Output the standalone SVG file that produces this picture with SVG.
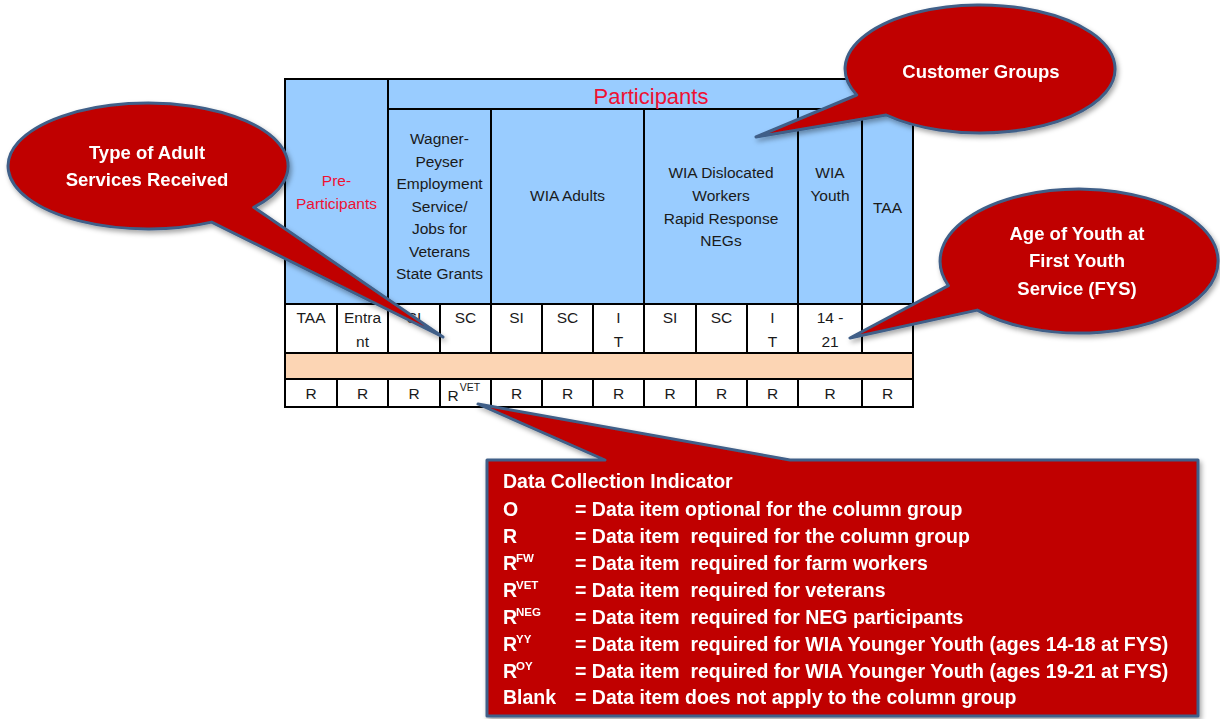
<svg xmlns="http://www.w3.org/2000/svg" width="1220" height="719" viewBox="0 0 1220 719">
<style>
.t{font-family:"Liberation Sans",Arial,sans-serif;font-size:15.5px;fill:#1a1a1a;text-anchor:middle}
.red{fill:#ee1133}
.co{fill:#c00000;stroke:#3f5f88;stroke-width:3;stroke-linejoin:round}
.ct{font-family:"Liberation Sans",Arial,sans-serif;font-size:18.5px;font-weight:bold;fill:#ffffff;text-anchor:middle}
.bt{font-family:"Liberation Sans",Arial,sans-serif;font-size:19.5px;font-weight:bold;fill:#ffffff;white-space:pre}
.bs{font-family:"Liberation Sans",Arial,sans-serif;font-size:11.5px;font-weight:bold;fill:#ffffff}
.ln{stroke:#000;stroke-width:2;fill:none}
</style>
<defs>
<filter id="sh" x="-10%" y="-10%" width="130%" height="130%">
<feDropShadow dx="2" dy="3" stdDeviation="2.5" flood-color="#000" flood-opacity="0.35"/>
</filter>
</defs>
<rect width="1220" height="719" fill="#ffffff"/>
<g id="table">
<rect x="285" y="79" width="628" height="225" fill="#99ccff"/>
<rect x="285" y="304" width="628" height="49" fill="#ffffff"/>
<rect x="285" y="353" width="628" height="26" fill="#fcd5b4"/>
<rect x="285" y="379" width="628" height="28" fill="#ffffff"/>
<path class="ln" d="M388 109H913M285 304H913M285 353H913M285 379H913"/>
<path class="ln" d="M388 79V353M491 109V353M644 109V353M798 109V353M862 109V353"/>
<path class="ln" d="M337 304V353M440 304V353M542 304V353M593 304V353M696 304V353M747 304V353"/>
<path class="ln" d="M337 379V407M388 379V407M440 379V407M491 379V407M542 379V407M593 379V407M644 379V407M696 379V407M747 379V407M798 379V407M862 379V407"/>
<rect class="ln" x="285" y="79" width="628" height="328"/>
<text class="t red" x="651" y="104" style="font-size:22px">Participants</text>
<text class="t red" x="336.5" y="186">Pre-</text>
<text class="t red" x="336.5" y="209">Participants</text>
<text class="t" x="439.5" y="144">Wagner-</text>
<text class="t" x="439.5" y="167">Peyser</text>
<text class="t" x="439.5" y="189">Employment</text>
<text class="t" x="439.5" y="212">Service/</text>
<text class="t" x="439.5" y="234">Jobs for</text>
<text class="t" x="439.5" y="257">Veterans</text>
<text class="t" x="439.5" y="279">State Grants</text>
<text class="t" x="567.5" y="201">WIA Adults</text>
<text class="t" x="721" y="178">WIA Dislocated</text>
<text class="t" x="721" y="201">Workers</text>
<text class="t" x="721" y="224">Rapid Response</text>
<text class="t" x="721" y="246">NEGs</text>
<text class="t" x="830" y="178">WIA</text>
<text class="t" x="830" y="201">Youth</text>
<text class="t" x="887.5" y="213">TAA</text>
<text class="t" x="311" y="323">TAA</text>
<text class="t" x="362.5" y="323">Entra</text>
<text class="t" x="362.5" y="347">nt</text>
<text class="t" x="414" y="323">SI</text>
<text class="t" x="465.5" y="323">SC</text>
<text class="t" x="516.5" y="323">SI</text>
<text class="t" x="567.5" y="323">SC</text>
<text class="t" x="618.5" y="323">I</text>
<text class="t" x="618.5" y="347">T</text>
<text class="t" x="670" y="323">SI</text>
<text class="t" x="721.5" y="323">SC</text>
<text class="t" x="772.5" y="323">I</text>
<text class="t" x="772.5" y="347">T</text>
<text class="t" x="830" y="323">14 -</text>
<text class="t" x="830" y="347">21</text>
<text class="t" x="311" y="399">R</text>
<text class="t" x="362.5" y="399">R</text>
<text class="t" x="414" y="399">R</text>
<text class="t" x="453" y="401">R</text>
<text class="t" x="470" y="391" style="font-size:10.5px">VET</text>
<text class="t" x="516.5" y="399">R</text>
<text class="t" x="567.5" y="399">R</text>
<text class="t" x="618.5" y="399">R</text>
<text class="t" x="670" y="399">R</text>
<text class="t" x="721.5" y="399">R</text>
<text class="t" x="772.5" y="399">R</text>
<text class="t" x="830" y="399">R</text>
<text class="t" x="887.5" y="399">R</text>
</g>
<g id="connectors">
</g>
<g id="callout-adult" filter="url(#sh)">
<path class="co" d="M253.7 207.3A140 63 0 1 0 211.6 222.1L443 337Z"/>
<text class="ct" x="147" y="159">Type of Adult</text>
<text class="ct" x="147" y="186">Services Received</text>
</g>
<g id="callout-customer" filter="url(#sh)">
<path class="co" d="M886.2 115A135 64 0 1 0 856.7 95L756 137Z"/>
<text class="ct" x="981" y="78">Customer Groups</text>
</g>
<g id="callout-age" filter="url(#sh)">
<path class="co" d="M977.3 310.1A139 72 0 1 0 948.4 285.6L850 338Z"/>
<text class="ct" x="1077" y="240">Age of Youth at</text>
<text class="ct" x="1077" y="267">First Youth</text>
<text class="ct" x="1077" y="295">Service (FYS)</text>
</g>
<g id="legend" filter="url(#sh)">
<path class="co" d="M487 460H605L478 404L790 460H1198V716H487Z"/>
<text class="bt" x="503" y="488">Data Collection Indicator</text>
<text class="bt" x="503" y="516">O</text>
<text class="bt" x="575" y="516">= Data item optional for the column group</text>
<text class="bt" x="503" y="543">R</text>
<text class="bt" x="575" y="543">= Data item  required for the column group</text>
<text class="bt" x="503" y="570">R</text><text class="bs" x="516" y="562">FW</text>
<text class="bt" x="575" y="570">= Data item  required for farm workers</text>
<text class="bt" x="503" y="597">R</text><text class="bs" x="516" y="589">VET</text>
<text class="bt" x="575" y="597">= Data item  required for veterans</text>
<text class="bt" x="503" y="624">R</text><text class="bs" x="516" y="616">NEG</text>
<text class="bt" x="575" y="624">= Data item  required for NEG participants</text>
<text class="bt" x="503" y="651">R</text><text class="bs" x="516" y="643">YY</text>
<text class="bt" x="575" y="651">= Data item  required for WIA Younger Youth (ages 14-18 at FYS)</text>
<text class="bt" x="503" y="678">R</text><text class="bs" x="516" y="670">OY</text>
<text class="bt" x="575" y="678">= Data item  required for WIA Younger Youth (ages 19-21 at FYS)</text>
<text class="bt" x="503" y="704">Blank</text>
<text class="bt" x="575" y="704">= Data item does not apply to the column group</text>
</g>
</svg>
